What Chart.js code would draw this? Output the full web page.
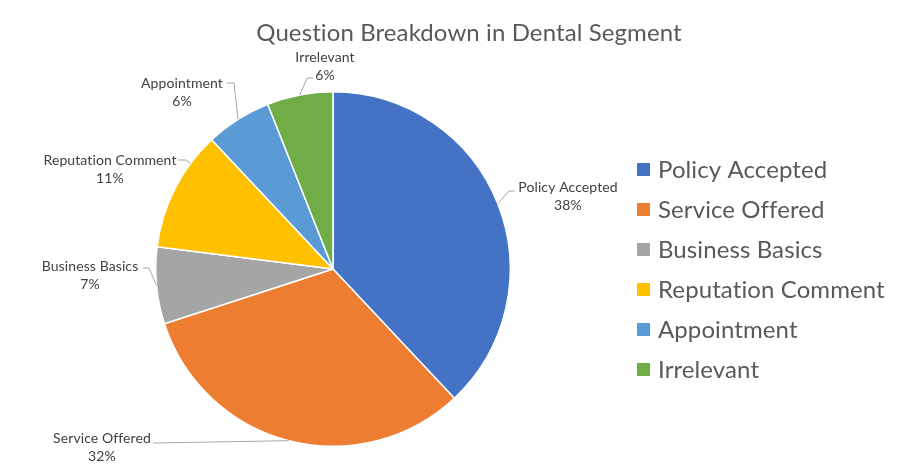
<!DOCTYPE html>
<html><head><meta charset="utf-8">
<script src="https://cdn.jsdelivr.net/npm/chart.js@4.4.0/dist/chart.umd.min.js"></script>
<style>html,body{margin:0;padding:0;background:#fff;}#wrap{width:915px;height:476px;position:relative;}canvas{font-variant-ligatures:none;}</style>
</head><body><div id="wrap"><canvas id="c"></canvas></div>
<script>
const categories = ["Policy Accepted", "Service Offered", "Business Basics", "Reputation Comment", "Appointment", "Irrelevant"];
const values = [38, 32, 7, 11, 6, 6];
const chartTitle = "Question Breakdown in Dental Segment";

// styles / layout (kept apart from data)
const colors = ["#4472C4", "#ED7D31", "#A5A5A5", "#FFC000", "#5B9BD5", "#70AD47"];
const labelLayout = [
  {cx: 568, cy: 187, start: [515, 191], elbow: [509, 191]},
  {cx: 102, cy: 438, start: [153, 443], elbow: [153, 443]},
  {cx: 90,  cy: 266, start: [143, 268], elbow: [149, 268]},
  {cx: 110, cy: 160, start: [178, 160], elbow: [186, 160], nearest: true},
  {cx: 182, cy: 83,  start: [227, 83],  elbow: [234, 83]},
  {cx: 325, cy: 57,  start: [313, 78],  elbow: [307, 78]}
];
const FONT = "Lato, 'Open Sans', sans-serif";

function setSpacing(ctx, v) { if ('letterSpacing' in ctx) ctx.letterSpacing = v; }

const decor = {
  id: 'decor',
  afterDatasetsDraw(chart) {
    const ctx = chart.ctx;
    const meta = chart.getDatasetMeta(0);
    const total = values.reduce((a, b) => a + b, 0);
    ctx.save();
    setSpacing(ctx, '0.1px');
    // title
    ctx.fillStyle = '#595959';
    ctx.font = '24px ' + FONT;
    ctx.textAlign = 'center';
    ctx.textBaseline = 'middle';
    ctx.fillText(chartTitle, 469, 33);
    // data labels with leader lines
    meta.data.forEach((arc, i) => {
      const L = labelLayout[i];
      const r = arc.outerRadius;
      let ang = (arc.startAngle + arc.endAngle) / 2;
      if (L.nearest) {
        let a = Math.atan2(L.elbow[1] - arc.y, L.elbow[0] - arc.x);
        while (a < arc.startAngle) a += 2 * Math.PI;
        while (a > arc.endAngle) a -= 2 * Math.PI;
        ang = Math.min(Math.max(a, arc.startAngle), arc.endAngle);
      }
      const ex = arc.x + r * Math.cos(ang), ey = arc.y + r * Math.sin(ang);
      ctx.strokeStyle = '#a6a6a6';
      ctx.lineWidth = 1;
      ctx.beginPath();
      ctx.moveTo(L.start[0], L.start[1]);
      ctx.lineTo(L.elbow[0], L.elbow[1]);
      ctx.lineTo(ex, ey);
      ctx.stroke();
      ctx.fillStyle = '#404040';
      ctx.font = '14px ' + FONT;
      ctx.textAlign = 'center';
      ctx.fillText(categories[i], L.cx, L.cy);
      ctx.fillText(Math.round(values[i] / total * 100) + '%', L.cx, L.cy + 18);
    });
    // legend
    categories.forEach((c, i) => {
      const y = 170 + i * 40;
      ctx.fillStyle = colors[i];
      ctx.fillRect(637, y - 7, 13, 13);
      ctx.fillStyle = '#595959';
      ctx.font = '24px ' + FONT;
      ctx.textAlign = 'left';
      ctx.fillText(c, 658, y);
    });
    ctx.restore();
  }
};

new Chart(document.getElementById('c'), {
  type: 'pie',
  data: {
    labels: categories,
    datasets: [{data: values, backgroundColor: colors, borderColor: '#ffffff', borderWidth: 1.5, hoverOffset: 0}]
  },
  options: {
    responsive: true,
    maintainAspectRatio: false,
    animation: false,
    devicePixelRatio: 1,
    layout: {padding: {top: 91, bottom: 29, left: 155, right: 404}},
    plugins: {legend: {display: false}, title: {display: false}, tooltip: {enabled: false}}
  },
  plugins: [decor]
});
</script></body></html>
